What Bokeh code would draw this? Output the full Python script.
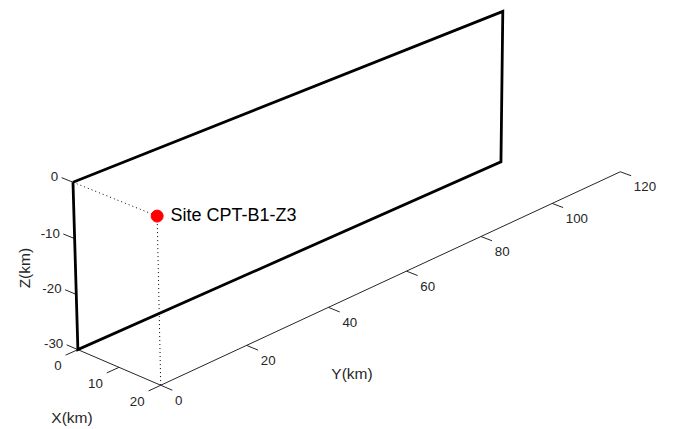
import numpy as np
from bokeh.plotting import figure
from bokeh.models import Range1d, Label
from bokeh.embed import file_html
from bokeh.resources import INLINE

# ---- data ----
x_ticks = [0, 10, 20]
y_ticks = [0, 20, 40, 60, 80, 100, 120]
z_ticks = [-30, -20, -10, 0]
x_lim = [0, 20]
y_lim = [0, 120]
z_lim = [-30, 0]
fault_x = 0
fault_y = [0, 107.8]
fault_z = [-30, 0]
site_xyz = [20, 0, 0]
site_name = "Site CPT-B1-Z3"
x_label, y_label, z_label = "X(km)", "Y(km)", "Z(km)"

# ---- camera (perspective view matrix, 3D -> screen pixels) ----
VIEW = np.array([
    [4.101841, 4.612158, -0.2058867, 72.48136],
    [1.547393, -1.571009, -5.773232, 181.7175],
    [-0.000681511, 0.001244257, -0.0005500377, 1.0],
])

def proj(X, Y, Z):
    h = VIEW @ np.array([X, Y, Z, 1.0])
    return h[0] / h[2], h[1] / h[2]

W, H = 690, 429
p = figure(width=W, height=H, x_range=Range1d(0, W), y_range=Range1d(H, 0),
           output_backend="svg", toolbar_location=None, min_border=0)
p.axis.visible = False
p.grid.visible = False
p.outline_line_color = None
p.background_fill_color = "white"

AX = "#262626"
FONT = "Liberation Sans"
TICK_FS = 13.3
LAB_FS = 15.5
SHIFT = 0.41  # baseline correction, in em

def line3(pts, **kw):
    xy = [proj(*q) for q in pts]
    p.line([a for a, _ in xy], [c for _, c in xy], **kw)

def label(x, y, text, align, size=TICK_FS, angle=0.0, color=AX):
    if angle:
        x = x - SHIFT * size
    else:
        y = y - SHIFT * size
    p.add_layout(Label(x=x, y=y, text=text, text_align=align,
                       text_baseline="alphabetic", text_font=FONT,
                       text_font_size="%.1fpx" % size, text_color=color, angle=angle))

x0, x1 = x_lim
y0, y1 = y_lim
z0, z1 = z_lim
TL = 2.75  # tick length in km

# axes lines
line3([(x1, y0, z0), (x1, y1, z0)], line_color=AX, line_width=1)
line3([(x0, y0, z0), (x1, y0, z0)], line_color=AX, line_width=1)

# Y ticks (pointing +X)
for yt in y_ticks:
    line3([(x1, yt, z0), (x1 + TL, yt, z0)], line_color=AX, line_width=1)
    ex, ey = proj(x1 + TL, yt, z0)
    label(ex + 2.7, ey + 16, str(yt), "left")

# X ticks (pointing -Y)
for xt in x_ticks:
    line3([(xt, y0, z0), (xt, y0 - TL, z0)], line_color=AX, line_width=1)
    ex, ey = proj(xt, y0 - TL, z0)
    label(ex - 4, ey + 16, str(xt), "right")

# Z ticks (pointing -X)
for zt in z_ticks:
    line3([(x0, y0, zt), (x0 - TL, y0, zt)], line_color=AX, line_width=1)
    ex, ey = proj(x0 - TL, y0, zt)
    label(ex - 3.4, ey + 4.5, str(zt), "right")

# axis labels
mx, my = proj((x0 + x1) / 2, y0, z0)
label(mx - 47, my + 57, x_label, "center", size=LAB_FS)
mx, my = proj(x1, (y0 + y1) / 2, z0)
label(mx - 54.5, my + 109, y_label, "center", size=LAB_FS)
mx, my = proj(x0, y0, (z0 + z1) / 2)
label(mx - 44.5, my + 1.5, z_label, "center", size=LAB_FS, angle=np.pi / 2)

# fault plane outline
fy0, fy1 = fault_y
fz0, fz1 = fault_z
line3([(fault_x, fy0, fz1), (fault_x, fy1, fz1), (fault_x, fy1, fz0),
       (fault_x, fy0, fz0), (fault_x, fy0, fz1)],
      line_color="black", line_width=2.8, line_join="miter")

# site projection lines
sxx, syy, szz = site_xyz
line3([(x0, syy, szz), (sxx, syy, szz)], line_color="black", line_width=1, line_dash="1 3")
line3([(sxx, syy, szz), (sxx, syy, z0)], line_color="black", line_width=1, line_dash="1 3")

sx, sy = proj(sxx, syy, szz)
p.scatter([sx], [sy], size=12, color="#ff0000", line_color="#ff0000")
label(sx + 13.4, sy + 6, site_name, "left", size=18, color="black")

open("out.html", "w").write(file_html(p, INLINE))
